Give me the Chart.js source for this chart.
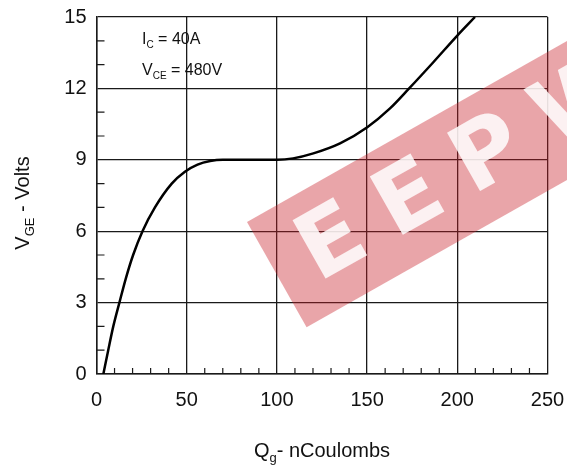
<!DOCTYPE html>
<html>
<head>
<meta charset="utf-8">
<script src="https://cdn.jsdelivr.net/npm/chart.js@4"></script>
<style>
  html, body { margin: 0; padding: 0; background: #fff; }
  #wrap { width: 567px; height: 469px; }
</style>
</head>
<body>
<div id="wrap"><canvas id="gate-chart" width="567" height="469"></canvas></div>
<script>
// gate charge curve
const qg  = [3.8, 6.5, 9.3, 12.7, 16.2, 20.3, 25.5, 32.4, 41.7, 49, 56, 63, 70, 85, 100, 109, 120.2, 135, 150.1, 162.7, 173.3, 186.7, 200, 209.8];
const vge = [0, 1, 2, 3, 4, 5, 6, 7, 8, 8.5, 8.8, 8.95, 9.0, 9.0, 9.0, 9.06, 9.27, 9.69, 10.37, 11.16, 12.0, 13.1, 14.22, 15.0];

const xTicks = [0, 50, 100, 150, 200, 250];
const yTicks = [0, 3, 6, 9, 12, 15];
const xMinor = [10, 20, 30, 40, 60, 70, 80, 90, 110, 120, 130, 140, 160, 170, 180, 190, 210, 220, 230, 240];
const yMinor = [1, 2, 4, 5, 7, 8, 10, 11, 13, 14];

const FONT = '"Liberation Sans", Arial, sans-serif';

// small helper: draw text with subscript parts, e.g. [['V',''],['GE','sub'],[' - Volts','']]
function drawParts(ctx, parts, x, y, size, align) {
    let total = 0;
    parts.forEach(p => {
        ctx.font = (p[1] === 'sub' ? Math.round(size * 0.65) : size) + 'px ' + FONT;
        total += ctx.measureText(p[0]).width;
    });
    let cx = align === 'center' ? x - total / 2 : x;
    parts.forEach(p => {
        const sub = p[1] === 'sub';
        ctx.font = (sub ? Math.round(size * 0.65) : size) + 'px ' + FONT;
        ctx.fillText(p[0], cx, sub ? y + size * 0.25 : y);
        cx += ctx.measureText(p[0]).width;
    });
}

const extras = {
    id: 'extras',
    afterDraw(chart) {
        const ctx = chart.ctx;
        const xs = chart.scales.x, ys = chart.scales.y;
        const area = chart.chartArea;

        // minor ticks pointing inward
        ctx.save();
        ctx.strokeStyle = '#1a1a1a';
        ctx.lineWidth = 1.2;
        ctx.beginPath();
        xMinor.forEach(v => {
            const px = xs.getPixelForValue(v);
            ctx.moveTo(px, area.bottom);
            ctx.lineTo(px, area.bottom - 6);
        });
        yMinor.forEach(v => {
            const py = ys.getPixelForValue(v);
            ctx.moveTo(area.left, py);
            ctx.lineTo(area.left + 8, py);
        });
        ctx.stroke();
        ctx.restore();

        // annotation and axis titles
        ctx.save();
        ctx.fillStyle = '#111';
        ctx.textBaseline = 'alphabetic';
        ctx.textAlign = 'left';
        drawParts(ctx, [['I', ''], ['C', 'sub'], [' = 40A', '']], 142, 44, 16);
        drawParts(ctx, [['V', ''], ['CE', 'sub'], [' = 480V', '']], 142, 75, 16);
        drawParts(ctx, [['Q', ''], ['g', 'sub'], ['- nCoulombs', '']], 322, 457, 20, 'center');
        ctx.translate(29, 203);
        ctx.rotate(-Math.PI / 2);
        drawParts(ctx, [['V', ''], ['GE', 'sub'], [' - Volts', '']], 0, 0, 20, 'center');
        ctx.restore();

        // watermark band laid over the plot
        ctx.save();
        ctx.translate(247, 222);
        ctx.rotate(-29.5 * Math.PI / 180);
        ctx.globalAlpha = 0.4;
        ctx.fillStyle = 'rgb(200,30,40)';
        ctx.fillRect(0, 0, 500, 121);
        ctx.globalAlpha = 0.85;
        ctx.fillStyle = '#fff';
        ctx.font = 'bold 92px "DejaVu Sans", sans-serif';
        ctx.textBaseline = 'middle';
        ctx.letterSpacing = '26px';
        ctx.fillText('EEPW', 32, 64);
        ctx.restore();
    }
};

new Chart(document.getElementById('gate-chart'), {
    type: 'line',
    data: {
        datasets: [{
            data: qg.map((q, i) => ({ x: q, y: vge[i] })),
            borderColor: '#000',
            borderWidth: 2.5,
            pointRadius: 0,
            cubicInterpolationMode: 'monotone',
            fill: false
        }]
    },
    options: {
        responsive: false,
        animation: false,
        layout: { padding: { top: 17, right: 19.5, left: 0, bottom: 0 } },
        plugins: { legend: { display: false }, tooltip: { enabled: false } },
        scales: {
            x: {
                type: 'linear',
                min: 0, max: 250,
                afterBuildTicks: s => { s.ticks = xTicks.map(v => ({ value: v })); },
                afterFit: s => { s.height = 95; s.paddingLeft = 0; s.paddingRight = 0; },
                grid: { color: '#1a1a1a', lineWidth: 1.3, drawTicks: false },
                border: { color: '#1a1a1a', width: 1.5 },
                ticks: { color: '#111', padding: 14, font: { size: 20, family: FONT } }
            },
            y: {
                type: 'linear',
                min: 0, max: 15,
                afterBuildTicks: s => { s.ticks = yTicks.map(v => ({ value: v })); },
                afterFit: s => { s.width = 96.5; s.paddingTop = 0; s.paddingBottom = 0; },
                grid: { color: '#1a1a1a', lineWidth: 1.3, drawTicks: false },
                border: { color: '#1a1a1a', width: 1.5 },
                ticks: { color: '#111', padding: 10, font: { size: 20, family: FONT } }
            }
        }
    },
    plugins: [extras]
});
</script>
</body>
</html>
